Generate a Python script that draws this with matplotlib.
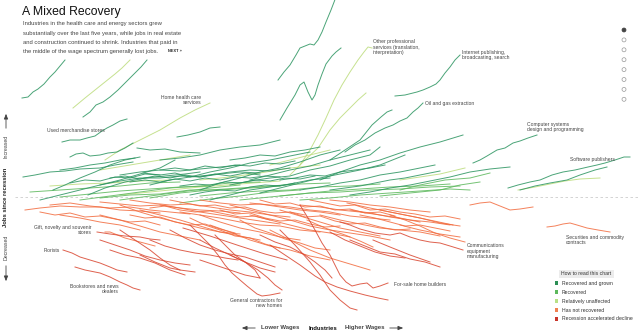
import matplotlib
matplotlib.use('Agg')
import matplotlib.pyplot as plt
from matplotlib.patches import Rectangle, Circle

plt.rcParams['font.family'] = ['Liberation Sans', 'DejaVu Sans']

# industries: each line is a list of (wage position, jobs position)
# vertical scale runs top-down, baseline (no change since recession) at 197
BASELINE = 197

grown = [
    [(278,80),(284,72),(290,65),(296,55),(300,48),(305,46),(310,44),(314,45),(318,40),(322,32),(326,22),(331,10),(336,-3)],
    [(280,120),(287,108),(295,95),(300,85),(304,82),(308,92),(312,100),(315,95),(318,85),(322,74),(326,64),(332,56),(336,52),(341,48)],
    [(395,96),(405,95),(417,92),(423,90),(430,87),(436,84),(440,80),(445,73),(450,67),(455,60),(460,55)],
    [(345,152),(355,145),(365,140),(375,133),(385,128),(393,125),(400,121),(407,118),(413,112),(418,108),(423,103)],
    [(330,160),(345,150),(360,140),(372,125),(381,117),(387,112),(392,110)],
    [(473,163),(480,160),(487,156),(497,150),(505,148),(513,143),(520,141),(528,138),(537,135)],
    [(508,188),(518,185),(530,182),(540,180),(552,175),(563,172),(575,170),(588,167),(597,165),(605,163),(615,160),(624,157),(630,157)],
    [(520,190),(535,186),(550,183),(567,180),(580,175),(595,170),(607,167)],
    [(62,142),(70,140),(80,140),(87,138),(95,136),(102,131),(107,128),(113,125),(120,121),(127,119)],
    [(22,98),(28,97),(33,92),(38,89),(44,84),(50,77),(55,72),(60,66),(65,60)],
    [(83,117),(90,112),(96,105),(103,102),(110,97),(118,90),(126,82),(134,74),(141,67),(147,60)],
    [(23,177),(35,175),(50,172),(65,171),(80,169),(100,168),(115,165),(133,162)],
    [(70,157),(76,154),(83,153),(90,156),(100,155),(108,153),(117,152),(125,148),(133,143)],
    [(137,148),(150,150),(165,149),(180,152),(200,153)],
    [(53,190),(65,185),(80,178),(95,172),(110,165),(125,160),(140,157)],
    [(88,195),(105,188),(125,182),(145,178),(165,176),(185,174),(200,172)],
    [(120,175),(140,172),(160,170),(180,171),(200,169),(220,167),(240,165)],
    [(143,173),(160,175),(175,173),(190,177),(210,175),(230,172),(250,170),(270,171),(290,168)],
    [(177,137),(188,135),(200,132),(210,128),(220,127)],
    [(150,185),(170,180),(190,177),(210,172),(230,168),(250,163),(270,160),(290,156),(310,152)],
    [(200,190),(220,183),(240,178),(260,172),(280,168),(300,162),(320,155),(340,150)],
    [(230,185),(250,181),(270,178),(290,176),(310,170),(330,166),(350,160),(370,155),(380,147)],
    [(260,193),(280,188),(300,183),(320,178),(340,174),(360,170),(380,165),(405,155)],
    [(300,190),(320,187),(340,183),(360,180),(380,175),(400,172),(420,168),(435,165)],
    [(350,195),(370,192),(390,188),(410,185),(430,181),(450,177),(470,172),(490,169),(510,167)],
    [(320,180),(340,172),(360,165),(380,160),(400,153),(420,147),(440,142),(463,135)],
    [(100,185),(120,181),(140,178),(160,178),(180,176),(200,177),(220,174),(240,172),(260,173)],
    [(160,160),(180,158),(200,155),(220,150),(240,147),(260,145),(280,140)],
    [(40,200),(60,195),(80,190),(100,185),(120,180),(140,174),(160,168),(175,160)],
    [(210,200),(230,195),(250,190),(270,187),(290,184),(310,180),(330,178)],
    [(250,180),(270,175),(290,170),(310,166),(330,160),(350,155),(370,150)],
    [(110,178),(125,176),(140,179),(155,176),(170,178),(185,175),(200,177),(215,174),(230,176),(245,173),(260,175)],
    [(130,182),(145,180),(160,182),(175,179),(190,181),(205,178),(220,180),(235,177),(250,178),(265,176),(280,177)],
    [(160,170),(175,168),(190,170),(205,166),(220,168),(235,165),(250,166),(265,163),(280,164),(295,161)],
    [(180,186),(195,184),(210,185),(225,182),(240,183),(255,180),(270,181),(285,178),(300,179),(315,176)],
    [(70,183),(85,180),(100,181),(115,177),(130,178),(145,174),(160,175)],
    [(230,160),(245,158),(260,155),(275,156),(290,152),(305,150),(320,147)],
    [(280,180),(295,178),(310,175),(325,176),(340,172),(355,170),(370,168),(385,165)],
    [(330,190),(345,188),(360,186),(375,183),(390,180),(405,178),(420,175),(440,171)],
    [(190,195),(205,192),(220,190),(235,191),(250,187),(265,185),(280,186),(295,183)],
    [(60,170),(75,168),(90,165),(105,163),(120,160),(135,158)],
]

recovered = [
    [(30,192),(60,190),(90,188),(120,186),(150,183),(180,182)],
    [(80,200),(110,196),(140,192),(170,188),(200,186),(230,183),(260,182)],
    [(150,198),(180,193),(210,190),(240,188),(270,186),(300,184),(330,183)],
    [(240,200),(270,197),(300,194),(330,191),(360,189),(390,187),(420,186),(450,184)],
    [(300,200),(330,198),(360,195),(390,193),(420,191),(450,189),(470,190)],
    [(180,203),(210,199),(240,196),(270,192),(300,190)],
    [(120,200),(150,196),(180,192),(210,188),(240,185)],
    [(380,196),(410,193),(440,190),(460,185),(480,182)],
    [(60,197),(90,194),(120,191),(150,189),(180,187),(210,186)],
    [(400,190),(420,185),(445,180),(470,178),(490,173)],
    [(100,198),(130,195),(160,194),(190,190),(220,190),(250,188),(280,186)],
    [(200,196),(230,193),(260,191),(290,190),(320,187),(350,186),(380,184)],
    [(280,196),(310,193),(340,192),(370,190),(400,189),(430,187),(460,186)],
]

unaffected = [
    [(300,165),(310,150),(318,135),(326,118),(334,100),(342,85),(350,72),(358,60),(364,52),(368,47),(372,48)],
    [(290,175),(305,160),(318,148),(330,130),(340,118),(350,108),(358,100),(366,93)],
    [(73,108),(85,98),(95,90),(105,82),(115,74),(122,68),(130,60)],
    [(105,160),(120,150),(140,140),(160,130),(180,118),(195,110),(210,103)],
    [(518,190),(535,187),(550,184),(565,181),(580,179),(600,178)],
    [(50,186),(80,184),(110,183),(140,181),(170,180)],
    [(120,195),(160,191),(200,187),(240,184),(280,181)],
    [(400,180),(420,177),(440,174),(465,168)],
    [(200,180),(230,177),(260,173),(290,168),(320,165)],
    [(270,165),(290,160),(310,155),(330,150)],
    [(100,170),(130,165),(160,160),(190,155)],
]

not_recovered = [
    [(25,210),(40,208),(60,206),(80,207),(100,207),(120,210),(140,211),(160,213)],
    [(50,205),(70,203),(90,206),(110,208),(130,207),(150,210),(170,212),(190,214)],
    [(100,202),(120,204),(140,206),(160,205),(180,208),(200,210),(220,211),(240,213)],
    [(130,200),(150,203),(170,205),(190,204),(210,207),(230,210),(250,212),(270,215),(290,217)],
    [(160,205),(180,208),(200,212),(220,215),(240,218),(260,221),(280,224)],
    [(200,200),(220,203),(240,205),(260,204),(280,207),(300,210),(320,212),(340,215)],
    [(250,203),(270,205),(290,207),(310,210),(330,212),(350,216),(370,218),(390,220)],
    [(300,205),(320,207),(340,210),(360,212),(380,215),(400,218),(420,222)],
    [(330,200),(350,202),(370,205),(390,207),(410,210),(430,212)],
    [(350,210),(370,213),(390,217),(410,220),(430,222),(450,225)],
    [(470,205),(480,203),(490,202),(500,206),(510,210),(520,209),(533,207)],
    [(547,227),(555,226),(563,224),(570,223),(577,225),(587,228),(598,230),(610,232)],
    [(100,215),(120,220),(140,226),(160,232),(180,236),(200,240)],
    [(140,210),(160,215),(180,220),(200,226),(220,232),(240,236),(260,240)],
    [(200,215),(220,222),(240,228),(260,232),(280,237),(300,240)],
    [(250,215),(270,220),(290,225),(310,230),(330,233),(350,237)],
    [(280,210),(300,216),(320,222),(340,228),(360,232),(380,236)],
    [(380,210),(400,214),(420,218),(440,223),(460,226)],
    [(60,215),(80,218),(100,222),(120,225),(140,230)],
    [(180,212),(200,215),(220,218),(240,222),(260,225),(280,226),(300,230),(320,232)],
    [(230,205),(250,210),(270,215),(290,220),(310,226),(330,230),(350,233),(370,236),(390,240)],
    [(120,205),(140,212),(160,218),(180,223),(200,228),(220,232),(240,234)],
    [(320,215),(340,220),(360,224),(380,228),(400,230),(420,232),(440,236)],
    [(210,225),(230,232),(250,240),(270,246),(290,250),(310,256),(330,260)],
    [(400,225),(420,230),(440,234),(460,237)],
    [(270,230),(290,240),(310,250),(330,258),(350,264),(370,270)],
    [(347,203),(370,208),(395,213),(420,218),(453,225)],
    [(307,220),(325,228),(345,235),(360,241),(373,247)],
    [(40,212),(55,215),(70,213),(85,217),(100,216),(115,219),(130,222),(145,221),(160,225)],
    [(130,215),(145,218),(160,217),(175,222),(190,225),(205,224),(220,229),(235,233)],
    [(150,208),(165,206),(180,210),(195,212),(210,211),(225,214),(240,217),(255,216),(270,220)],
    [(170,200),(185,203),(200,206),(215,205),(230,208),(245,207),(260,211),(275,213),(290,212),(305,215)],
    [(220,210),(235,214),(250,213),(265,218),(280,221),(295,220),(310,224),(325,227),(340,226)],
    [(260,200),(275,204),(290,203),(305,207),(320,206),(335,210),(350,209),(365,213),(380,212),(395,216)],
    [(290,212),(305,217),(320,216),(335,221),(350,224),(365,223),(380,227),(395,230),(410,229)],
    [(310,200),(325,203),(340,206),(355,205),(370,210),(385,209),(400,212),(415,214),(430,217),(445,216),(460,219)],
    [(360,215),(375,218),(390,222),(405,226),(420,225),(435,228),(450,231)],
    [(190,218),(205,225),(220,230),(235,236),(250,238),(265,244),(280,248)],
    [(240,220),(255,228),(270,233),(285,239),(300,243),(315,248),(330,250)],
    [(105,232),(110,232),(125,238),(140,242),(155,246)],
    [(390,215),(405,220),(420,226),(435,233),(450,238),(465,242)],
]

declined = [
    [(63,250),(72,253),(80,257),(90,260),(100,263),(110,267),(117,270),(127,272)],
    [(75,267),(85,270),(100,273),(110,277),(120,282),(127,285),(133,288),(140,290)],
    [(97,232),(110,234),(125,236),(140,237),(150,239),(160,240)],
    [(140,255),(155,262),(170,268),(180,270),(195,272)],
    [(190,225),(200,235),(210,245),(218,255),(225,265),(232,273),(240,280),(247,286),(252,290),(257,294),(262,296),(270,295),(280,293)],
    [(300,205),(308,218),(315,230),(322,243),(330,255),(335,265),(340,275),(346,282),(352,286),(360,284),(367,283),(373,288),(380,286),(388,283)],
    [(340,222),(350,225),(360,229),(375,233),(390,235),(400,233),(410,237),(420,240),(430,242),(440,243),(450,246),(463,250)],
    [(270,245),(285,255),(300,265),(315,276),(325,282),(337,287),(350,291),(365,295),(378,298),(388,300)],
    [(280,230),(295,245),(310,262),(320,275),(330,290),(340,300),(350,308),(357,310)],
    [(150,240),(165,246),(180,250),(195,253),(210,255),(225,258),(238,260)],
    [(200,240),(215,248),(230,255),(245,262),(260,268),(275,272)],
    [(230,255),(245,262),(258,270),(268,278),(275,285),(282,290)],
    [(100,240),(115,245),(130,250),(145,256),(160,260),(175,263),(190,265)],
    [(170,230),(185,238),(200,245),(215,250),(230,254),(245,257),(260,262),(275,267)],
    [(330,232),(345,240),(360,246),(375,252),(390,256),(405,258)],
    [(120,230),(135,240),(150,250),(160,258),(170,265),(180,270)],
    [(183,228),(210,236),(240,246),(265,254),(287,260)],
    [(373,240),(390,247),(410,255),(430,262)],
    [(260,235),(275,242),(290,247),(305,255),(315,262),(325,270),(332,278)],
    [(350,240),(365,246),(380,252),(395,254),(410,259),(425,262),(440,267)],
    [(215,235),(225,245),(235,255),(245,262),(255,270),(260,278)],
    [(110,250),(125,255),(140,258),(155,263),(170,270),(185,275)],
    [(200,260),(215,265),(230,270),(245,275),(260,278)],
]

groups = [
    (unaffected, '#bcdc7c'),
    (recovered, '#5cb85c'),
    (grown, '#2b9460'),
    (not_recovered, '#f26b3e'),
    (declined, '#d9452f'),
]

labels = [
    (47, 131, 'Used merchandise stores', 'left'),
    (201, 100, 'Home health care\nservices', 'right'),
    (373, 47, 'Other professional\nservices (translation,\ninterpretation)', 'left'),
    (462, 55, 'Internet publishing,\nbroadcasting, search', 'left'),
    (425, 104, 'Oil and gas extraction', 'left'),
    (527, 127, 'Computer systems\ndesign and programming', 'left'),
    (570, 160, 'Software publishers', 'left'),
    (92, 230, 'Gift, novelty and souvenir\nstores', 'right'),
    (60, 250, 'Florists', 'right'),
    (119, 289, 'Bookstores and news\ndealers', 'right'),
    (282, 303, 'General contractors for\nnew homes', 'right'),
    (394, 285, 'For-sale home builders', 'left'),
    (467, 251, 'Communications\nequipment\nmanufacturing', 'left'),
    (566, 240, 'Securities and commodity\ncontracts', 'left'),
]

legend_items = [
    ('Recovered and grown', '#2b8f55'),
    ('Recovered', '#5cb85c'),
    ('Relatively unaffected', '#b8e186'),
    ('Has not recovered', '#f08050'),
    ('Recession accelerated decline', '#c9352b'),
]

intro = [
    'Industries in the health care and energy sectors grew',
    'substantially over the last five years, while jobs in real estate',
    'and construction continued to shrink. Industries that paid in',
    'the middle of the wage spectrum generally lost jobs.',
]

fig = plt.figure(figsize=(6.4, 3.33), dpi=100)
ax = fig.add_axes([0, 0, 1, 1])
ax.set_xlim(0, 640)
ax.set_ylim(333, 0)
ax.axis('off')

ax.plot([15, 640], [BASELINE, BASELINE], color='#cccccc', lw=0.6, ls=(0, (3, 3)), zorder=1)

for lines, col in groups:
    for line in lines:
        xs, ys = zip(*line)
        ax.plot(xs, ys, color=col, lw=0.7, alpha=0.85, solid_joinstyle='round', zorder=2)

for x, y, txt, ha in labels:
    ax.text(x, y, txt, fontsize=3.6, color='#444444', ha=ha, va='center',
            linespacing=1.15, zorder=5)

# title block
ax.text(22, 12, 'A Mixed Recovery', fontsize=8.8, color='#111111', va='center')
for i, t in enumerate(intro):
    ax.text(23, 24 + i * 9.2, t, fontsize=4.2, color='#444444', va='center')
ax.text(168, 51, 'NEXT »', fontsize=2.8, fontweight='bold', color='#222222', va='center')

# vertical axis label
ax.text(6, 146, 'Increased', rotation=90, fontsize=3.8, color='#444444', ha='center', va='center')
ax.text(6, 197, 'Jobs since recession', rotation=90, fontsize=4.2, fontweight='bold', color='#222222', ha='center', va='center')
ax.text(6, 247, 'Decreased', rotation=90, fontsize=3.8, color='#444444', ha='center', va='center')
ax.annotate('', xy=(6, 111), xytext=(6, 131), arrowprops=dict(arrowstyle='-|>,head_length=0.3,head_width=0.12', color='#444444', lw=0.6))
ax.annotate('', xy=(6, 284), xytext=(6, 263), arrowprops=dict(arrowstyle='-|>,head_length=0.3,head_width=0.12', color='#444444', lw=0.6))

# horizontal axis label
ax.text(280, 328, 'Lower Wages', fontsize=4.3, fontweight='bold', color='#444444', ha='center', va='center')
ax.text(323, 328, 'Industries', fontsize=4.3, fontweight='bold', color='#111111', ha='center', va='center')
ax.text(365, 328, 'Higher Wages', fontsize=4.3, fontweight='bold', color='#444444', ha='center', va='center')
ax.annotate('', xy=(239, 328), xytext=(258, 328), arrowprops=dict(arrowstyle='-|>,head_length=0.3,head_width=0.12', color='#444444', lw=0.6))
ax.annotate('', xy=(406, 328), xytext=(387, 328), arrowprops=dict(arrowstyle='-|>,head_length=0.3,head_width=0.12', color='#444444', lw=0.6))

# legend
ax.add_patch(Rectangle((559, 269.5), 55, 8, facecolor='#ececec', edgecolor='none', zorder=4))
ax.text(586.5, 273.5, 'How to read this chart', fontsize=3.7, color='#333333', ha='center', va='center', zorder=5)
for i, (name, col) in enumerate(legend_items):
    y = 283 + i * 9
    ax.add_patch(Rectangle((555, y - 1.6), 3.2, 3.2, facecolor=col, edgecolor='none', zorder=5))
    ax.text(562, y, name, fontsize=3.7, color='#333333', va='center', zorder=5)

# slide dots
for i in range(8):
    face = '#444444' if i == 0 else 'white'
    edge = '#444444' if i == 0 else '#999999'
    ax.add_patch(Circle((624, 30 + i * 9.9), 2.0, facecolor=face, edgecolor=edge, lw=0.5, zorder=5))

fig.savefig('out.png', dpi=100, facecolor='white')
